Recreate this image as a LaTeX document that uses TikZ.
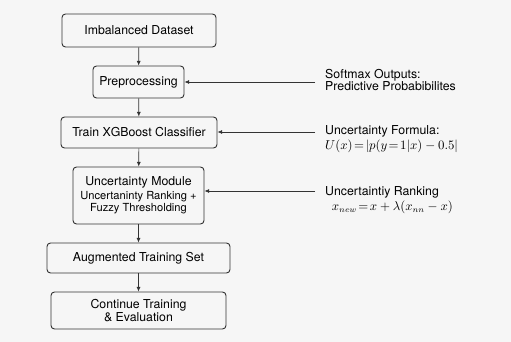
\documentclass[tikz,border=0pt]{standalone}
\usepackage{fontspec}
\setmainfont{TeX Gyre Heros}
\usetikzlibrary{arrows.meta}
\definecolor{linegray}{gray}{0.2}
\definecolor{bggray}{gray}{0.965}

\begin{document}
\begin{tikzpicture}[x=0.03cm,y=-0.03cm,
    every node/.style={font=\fontsize{10.5}{12.5}\selectfont},
    box/.style={draw=linegray,thick,rounded corners=3pt,align=center,inner sep=2pt},
    note/.style={align=left,inner sep=0pt,anchor=west},
    flow/.style={-{Latex[length=4pt,width=3.5pt]},linegray,semithick}]
  \fill[bggray] (0,0) rectangle (511,342);
  \useasboundingbox (0,0) rectangle (511,342);

  % main pipeline
  \node[box,minimum width=154*0.03cm,minimum height=33*0.03cm] (data) at (139,30.5) {Imbalanced Dataset};
  \node[box,minimum width=91*0.03cm,minimum height=32*0.03cm] (pre) at (138.5,82) {Preprocessing};
  \node[box,minimum width=156*0.03cm,minimum height=31*0.03cm] (xgb) at (139,132.5) {Train XGBoost Classifier};
  \node[box,minimum width=131*0.03cm,minimum height=57*0.03cm] (unc) at (138.5,195.5)
    {Uncertainty Module\\[-1pt]{\fontsize{9.5}{11}\selectfont Uncertaninty Ranking +}\\[-2pt]{\fontsize{9.5}{11}\selectfont Fuzzy Thresholding}};
  \node[box,minimum width=183*0.03cm,minimum height=30*0.03cm] (aug) at (138.5,258) {Augmented Training Set};
  \node[box,minimum width=175*0.03cm,minimum height=37*0.03cm] (cont) at (138.5,310.5) {Continue Training\\[-1pt]\& Evaluation};

  \draw[flow] (data) -- (pre);
  \draw[flow] (pre) -- (xgb);
  \draw[flow] (xgb) -- (unc);
  \draw[flow] (unc) -- (aug);
  \draw[flow] (aug) -- (cont);

  % side notes
  \node[note] (soft) at (325,80) {Softmax Outputs:\\[-2pt]Predictive Probabibilites};
  \node[note] (form) at (325,139) {Uncertainty Formula:\\$U(x)\!=\!|p(y\!=\!1|x)-0.5|$};
  \node[note] (rank) at (325,200) {Uncertaintiy Ranking\\\hspace*{0.2cm}$x_{new}\!=\!x+\lambda(x_{nn}-x)$};

  \coordinate (s1) at (315,82);
  \coordinate (s2) at (315,132);
  \coordinate (s3) at (315,191);
  \draw[flow] (s1) -- (s1 -| pre.east);
  \draw[flow] (s2) -- (s2 -| xgb.east);
  \draw[flow] (s3) -- (s3 -| unc.east);
\end{tikzpicture}
\end{document}
